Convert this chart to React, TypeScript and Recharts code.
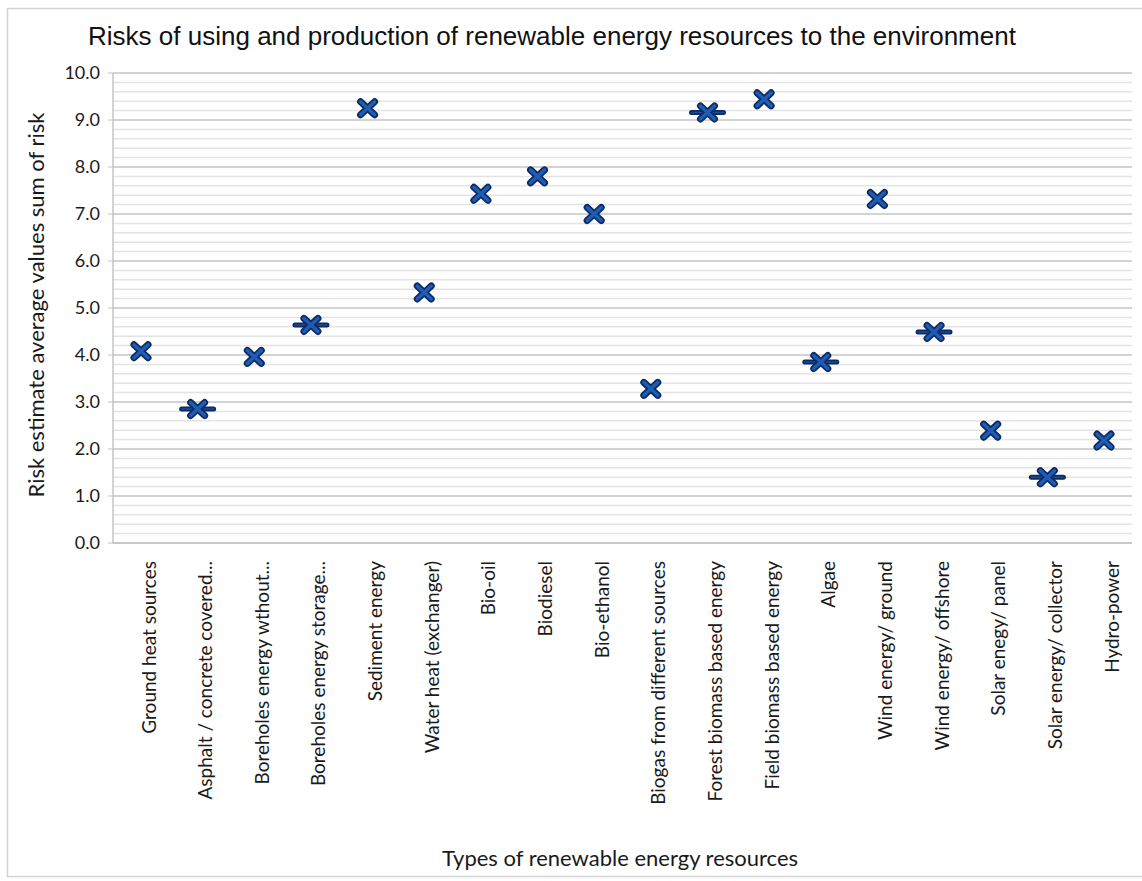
import React from "react";
import { ComposedChart, Line, XAxis, YAxis, CartesianGrid, ReferenceLine } from "recharts";

const categories = [
  "Ground heat sources",
  "Asphalt / concrete covered...",
  "Boreholes energy wthout...",
  "Boreholes energy storage...",
  "Sediment energy",
  "Water heat (exchanger)",
  "Bio-oil",
  "Biodiesel",
  "Bio-ethanol",
  "Biogas from different sources",
  "Forest biomass based energy",
  "Field biomass based energy",
  "Algae",
  "Wind energy/ ground",
  "Wind energy/ offshore",
  "Solar enegy/ panel",
  "Solar energy/ collector",
  "Hydro-power",
];

// X markers
const riskValues = [4.08, 2.85, 3.96, 4.64, 9.25, 5.33, 7.43, 7.8, 7.0, 3.28, 9.16, 9.44, 3.85, 7.32, 4.49, 2.39, 1.4, 2.18];
// dash markers (only shown for some categories)
const dashValues = [null, 2.85, null, 4.64, null, null, null, null, null, null, 9.16, null, 3.85, null, 4.49, null, 1.4, null];

const yTicks = [0, 1, 2, 3, 4, 5, 6, 7, 8, 9, 10];
// light grid every 0.2 between the major lines
const minorTicks = Array.from({ length: 51 }, (_, i) => i / 5).filter((v) => i5(v));
function i5(v: number) {
  return Math.abs(v - Math.round(v)) > 0.01;
}

const data = categories.map((name, i) => ({ name, risk: riskValues[i], dash: dashValues[i] }));

const NAVY = "#0d2b63";
const BLUE = "#1f5cb3";

const renderX = (props: any) => {
  const { cx, cy, index } = props;
  if (cx == null || cy == null) return <g key={`x-${index}`} />;
  const d = `M${cx - 7},${cy - 6.5}L${cx + 7},${cy + 6.5}M${cx - 7},${cy + 6.5}L${cx + 7},${cy - 6.5}`;
  return (
    <g key={`x-${index}`}>
      <path d={d} stroke={NAVY} strokeWidth={7} strokeLinecap="round" fill="none" />
      <path d={d} stroke={BLUE} strokeWidth={3.5} strokeLinecap="round" fill="none" />
    </g>
  );
};

const renderDash = (props: any) => {
  const { cx, cy, index, value } = props;
  if (cx == null || cy == null || value == null) return <g key={`d-${index}`} />;
  const d = `M${cx - 16},${cy}L${cx + 16},${cy}`;
  return (
    <g key={`d-${index}`}>
      <path d={d} stroke={NAVY} strokeWidth={5} strokeLinecap="round" fill="none" />
      <path d={d} stroke="#1b4a98" strokeWidth={1.5} strokeLinecap="round" fill="none" />
    </g>
  );
};

const CategoryTick = (props: any) => {
  const { x, y, payload } = props;
  return (
    <text
      transform={`translate(${x + 7},${y + 16}) rotate(-90)`}
      textAnchor="end"
      dominantBaseline="central"
      fontFamily="Lato"
      fontSize={19}
      fill="#1a1a1a"
    >
      {payload.value}
    </text>
  );
};

export default function App() {
  return (
    <div style={{ position: "absolute", left: 0, top: 0, width: 1142, height: 881, background: "#fff" }}>
      <svg width={1142} height={881} style={{ position: "absolute", left: 0, top: 0 }}>
        <rect x={7.5} y={8.5} width={1140} height={868} fill="#fff" stroke="#d4d4d4" strokeWidth={1.5} />
        <text x={552} y={45} textAnchor="middle" fontFamily="Liberation Sans, Arial" fontSize={26} fill="#111">
          Risks of using and production of renewable energy resources to the environment
        </text>
        <text transform="translate(44,305) rotate(-90)" textAnchor="middle" fontFamily="Lato" fontSize={22} fill="#1a1a1a">
          Risk estimate average values sum of risk
        </text>
        <text x={620} y={866} textAnchor="middle" fontFamily="Lato" fontSize={22} fill="#1a1a1a">
          Types of renewable energy resources
        </text>
      </svg>
      <div style={{ position: "absolute", left: 0, top: 0 }}>
        <ComposedChart width={1142} height={881} data={data} margin={{ top: 73, right: 10, bottom: 0, left: 0 }}>
          <CartesianGrid yAxisId="main" vertical={false} stroke="#c4c4c4" strokeWidth={1.5} />
          {minorTicks.map((v) => (
            <ReferenceLine key={v} yAxisId="main" y={v} stroke="#e4e4e4" strokeWidth={1.5} />
          ))}
          <XAxis
            dataKey="name"
            interval={0}
            height={338}
            padding={{ left: 28, right: 28 }}
            tick={<CategoryTick />}
            tickLine={false}
            tickSize={0}
            axisLine={{ stroke: "#c4c4c4", strokeWidth: 1.5 }}
          />
          <YAxis
            yAxisId="main"
            width={113}
            domain={[0, 10]}
            ticks={yTicks}
            tickFormatter={(v: number) => v.toFixed(1)}
            tickSize={5}
            tickMargin={8}
            tickLine={{ stroke: "#c4c4c4" }}
            axisLine={{ stroke: "#c4c4c4", strokeWidth: 1.5 }}
            tick={{ fontFamily: "Lato", fontSize: 18, fill: "#1a1a1a" }}
          />
          <Line
            yAxisId="main"
            dataKey="dash"
            stroke="none"
            dot={renderDash}
            activeDot={false}
            isAnimationActive={false}
          />
          <Line
            yAxisId="main"
            dataKey="risk"
            stroke="none"
            dot={renderX}
            activeDot={false}
            isAnimationActive={false}
          />
        </ComposedChart>
      </div>
    </div>
  );
}
